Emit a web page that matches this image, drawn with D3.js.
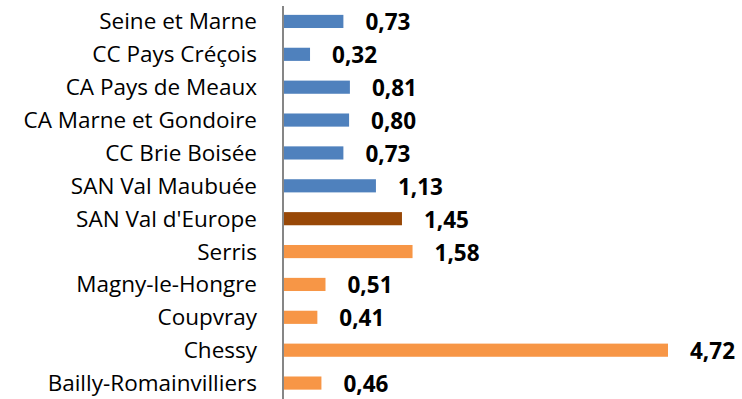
<!DOCTYPE html>
<html>
<head>
<meta charset="utf-8">
<script src="https://cdn.jsdelivr.net/npm/d3@7"></script>
<style>
  html, body { margin: 0; padding: 0; background: #fff; }
  svg { display: block; }
</style>
</head>
<body>
<svg id="chart" width="742" height="399"></svg>
<script>
// Territories, top to bottom
const categories = [
  "Seine et Marne", "CC Pays Créçois", "CA Pays de Meaux", "CA Marne et Gondoire",
  "CC Brie Boisée", "SAN Val Maubuée", "SAN Val d'Europe", "Serris",
  "Magny-le-Hongre", "Coupvray", "Chessy", "Bailly-Romainvilliers"
];
const values = [0.73, 0.32, 0.81, 0.80, 0.73, 1.13, 1.45, 1.58, 0.51, 0.41, 4.72, 0.46];
// Group of each territory: department / intercommunalities, the SAN, its communes
const groups = ["ref", "ref", "ref", "ref", "ref", "ref", "san", "commune", "commune", "commune", "commune", "commune"];
const groupColors = { ref: "#4F81BD", san: "#984807", commune: "#F79646" };

const svg = d3.select("#chart");
const x0 = 284;

const x = d3.scaleLinear().domain([0, 4.72]).range([x0, 668]);
const y = d3.scaleBand().domain(categories).range([5, 399.5]).paddingInner(0.6).paddingOuter(0.3);

const rows = categories.map((c, i) => ({ name: c, value: values[i], group: groups[i] }));

// Bars
svg.append("g").selectAll("rect")
  .data(rows)
  .join("rect")
  .attr("x", x(0))
  .attr("y", d => y(d.name))
  .attr("width", d => x(d.value) - x(0))
  .attr("height", y.bandwidth())
  .attr("fill", d => groupColors[d.group]);

// Category axis (line only, no ticks)
const yAxis = svg.append("g")
  .attr("transform", `translate(${x0 - 1},0)`)
  .call(d3.axisLeft(y).tickSize(0).tickPadding(26));
yAxis.select(".domain").attr("stroke", "#868686").attr("stroke-width", 2)
  .attr("d", `M0,6V399`);
yAxis.selectAll("text")
  .attr("font-family", "'Open Sans', sans-serif")
  .attr("font-size", 22.5)
  .attr("dy", null)
  .attr("y", 8)
  .attr("fill", "#000");

// Value labels
const fmt = v => d3.format(".2f")(v).replace(".", ",");
svg.append("g").selectAll("text")
  .data(rows)
  .join("text")
  .attr("x", d => x(d.value) + 22)
  .attr("y", d => y(d.name) + y.bandwidth() / 2 + 9)
  .attr("font-family", "'Open Sans', sans-serif")
  .attr("font-weight", "bold")
  .attr("font-size", 22.5)
  .attr("fill", "#000")
  .text(d => fmt(d.value));
</script>
</body>
</html>
